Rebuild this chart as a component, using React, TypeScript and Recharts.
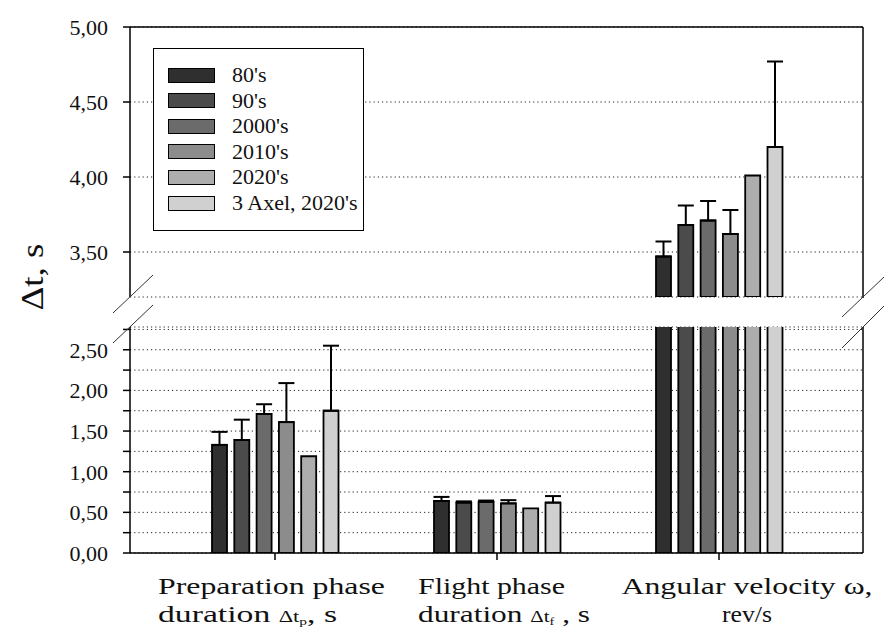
import React from 'react';
import { BarChart, Bar, XAxis, YAxis, CartesianGrid, ErrorBar } from 'recharts';

// jump parameters, three groups on the x axis
const categories = ['prep', 'flight', 'omega'];

// one series per era; means and (upper) standard deviations per group
const seriesNames = ["80's", "90's", "2000's", "2010's", "2020's", "3 Axel, 2020's"];
const seriesColors = ['#2f2f2f', '#4b4b4b', '#6b6b6b', '#8c8c8c', '#adadad', '#d0d0d0'];

const values80s = [1.33, 0.64, 3.47];
const values90s = [1.39, 0.62, 3.68];
const values2000s = [1.71, 0.63, 3.71];
const values2010s = [1.61, 0.61, 3.62];
const values2020s = [1.19, 0.55, 4.01];
const values3Axel = [1.75, 0.62, 4.2];

const sd80s = [0.16, 0.05, 0.1];
const sd90s = [0.25, 0.015, 0.13];
const sd2000s = [0.12, 0.015, 0.13];
const sd2010s = [0.48, 0.04, 0.16];
const sd3Axel = [0.8, 0.08, 0.57];

const lowerTicks = [0, 0.25, 0.5, 0.75, 1, 1.25, 1.5, 1.75, 2, 2.25, 2.5, 2.75];
const upperTicks = [3.5, 4, 4.5, 5];

const series = [
  { values: values80s, sd: sd80s },
  { values: values90s, sd: sd90s },
  { values: values2000s, sd: sd2000s },
  { values: values2010s, sd: sd2010s },
  { values: values2020s, sd: null },
  { values: values3Axel, sd: sd3Axel },
].map((s, k) => ({ ...s, name: seriesNames[k], color: seriesColors[k] }));

// broken value axis
const LOWER_MAX = 2.78;
const UPPER_MIN = 3.2;
const UPPER_MAX = 5;

// plot frame (px)
const W = 884;
const H = 632;
const LEFT = 130;
const RIGHT = 863;
const TOP = 27;
const UPPER_BOTTOM = 297;
const LOWER_TOP = 327;
const BOTTOM = 553;
const Y_AXIS_W = 60;

type Row = Record<string, string | number | number[] | null>;

function buildRows(showBar: (v: number) => boolean, showErr: (v: number, e: number) => boolean): Row[] {
  return categories.map((cat, i) => {
    const row: Row = { cat };
    series.forEach((s, k) => {
      const v = s.values[i];
      row[`v${k}`] = showBar(v) ? v : null;
      row[`e${k}`] = s.sd && showBar(v) && showErr(v, s.sd[i]) ? [0, s.sd[i]] : null;
    });
    return row;
  });
}

const lowerRows = buildRows(() => true, (v) => v <= LOWER_MAX);
const upperRows = buildRows((v) => v >= UPPER_MIN, () => true);

const FONT = '"Liberation Serif", "Times New Roman", serif';

const fmt = (v: number) => v.toFixed(2).replace('.', ',');

type Seg = { t: string; size?: number; dy?: number };
type XLabel = { anchor: 'start' | 'middle'; dx: number; lines: Seg[][]; widths: number[] };

const xLabels: Record<string, XLabel> = {
  prep: {
    anchor: 'start',
    dx: -117,
    lines: [
      [{ t: 'Preparation phase' }],
      [{ t: 'duration ' }, { t: '\u0394t', size: 16 }, { t: 'p', size: 11, dy: 3 }, { t: ', s', dy: -3 }],
    ],
    widths: [227, 179],
  },
  flight: {
    anchor: 'start',
    dx: -79,
    lines: [
      [{ t: 'Flight phase' }],
      [{ t: 'duration  ' }, { t: '\u0394t', size: 16 }, { t: 'f', size: 11, dy: 3 }, { t: ' , s', dy: -3 }],
    ],
    widths: [147, 172],
  },
  omega: {
    anchor: 'middle',
    dx: 28,
    lines: [[{ t: 'Angular velocity \u03c9,' }], [{ t: 'rev/s' }]],
    widths: [251, 50],
  },
};

function CategoryTick(props: any) {
  const { x, y, payload } = props;
  const lab = xLabels[payload.value];
  if (!lab) return null;
  return (
    <g>
      {lab.lines.map((segs, li) => (
        <text
          key={li}
          x={x + lab.dx}
          y={y + 32 + li * 28}
          textAnchor={lab.anchor}
          fontFamily={FONT}
          fontSize={24}
          fill="#111"
          textLength={lab.widths[li]}
          lengthAdjust="spacingAndGlyphs"
        >
          {segs.map((s, si) => (
            <tspan key={si} fontSize={s.size ?? 24} dy={s.dy ?? 0}>
              {s.t}
            </tspan>
          ))}
        </text>
      ))}
    </g>
  );
}

const yTickStyle = { fill: '#111', fontSize: 22, fontFamily: FONT };

function renderBars(withErrors: boolean) {
  return series.map((s, k) => (
    <Bar
      key={s.name}
      dataKey={`v${k}`}
      name={s.name}
      fill={s.color}
      stroke="#000"
      strokeWidth={1.8}
      isAnimationActive={false}
    >
      {withErrors && s.sd && (
        <ErrorBar dataKey={`e${k}`} width={8} stroke="#000" strokeWidth={2} direction="y" isAnimationActive={false} />
      )}
    </Bar>
  ));
}

const xPadding = { left: 34, right: 33 };
const barProps = { barSize: 15, barGap: 7.3 };

export default function App() {
  const abs: React.CSSProperties = { position: 'absolute', left: 0, top: 0 };
  return (
    <div style={{ position: 'absolute', left: 0, top: 0, width: W, height: H, background: '#fff' }}>
      {/* lower segment: 0 .. 2.78 */}
      <div style={abs}>
        <BarChart
          width={W}
          height={H}
          data={lowerRows}
          margin={{ top: LOWER_TOP, right: W - RIGHT, bottom: 0, left: LEFT - Y_AXIS_W }}
          {...barProps}
        >
          <CartesianGrid vertical={false} stroke="#222" strokeDasharray="1.2 3" />
          <XAxis
            dataKey="cat"
            height={H - BOTTOM}
            padding={xPadding}
            axisLine={{ stroke: '#000', strokeWidth: 1.5 }}
            tickLine={{ stroke: '#000', strokeWidth: 1.5 }}
            tickSize={7}
            tick={<CategoryTick />}
            interval={0}
          />
          <YAxis
            width={Y_AXIS_W}
            domain={[0, LOWER_MAX]}
            allowDataOverflow
            ticks={lowerTicks}
            interval={0}
            tickFormatter={(v: number) => (Math.abs((v * 2) % 1) < 1e-9 ? fmt(v) : '')}
            axisLine={{ stroke: '#000', strokeWidth: 1.5 }}
            tickLine={{ stroke: '#000', strokeWidth: 1.5 }}
            tickSize={7}
            tickMargin={15}
            tick={yTickStyle}
          />
          {renderBars(true)}
        </BarChart>
      </div>

      {/* upper segment: 3.2 .. 5.0 */}
      <div style={abs}>
        <BarChart
          width={W}
          height={H}
          data={upperRows}
          margin={{ top: TOP, right: W - RIGHT, bottom: H - UPPER_BOTTOM, left: LEFT - Y_AXIS_W }}
          {...barProps}
        >
          <CartesianGrid vertical={false} stroke="#222" strokeDasharray="1.2 3" />
          <XAxis dataKey="cat" hide padding={xPadding} />
          <YAxis
            width={Y_AXIS_W}
            domain={[UPPER_MIN, UPPER_MAX]}
            allowDataOverflow
            ticks={upperTicks}
            interval={0}
            tickFormatter={fmt}
            axisLine={{ stroke: '#000', strokeWidth: 1.5 }}
            tickLine={{ stroke: '#000', strokeWidth: 1.5 }}
            tickSize={7}
            tickMargin={15}
            tick={yTickStyle}
          />
          {renderBars(true)}
        </BarChart>
      </div>

      {/* frame, axis breaks and value-axis title */}
      <svg width={W} height={H} style={{ ...abs, pointerEvents: 'none' }}>
        <g stroke="#000" strokeWidth={1.5}>
          <line x1={LEFT} y1={TOP} x2={RIGHT} y2={TOP} />
          <line x1={RIGHT} y1={TOP} x2={RIGHT} y2={UPPER_BOTTOM + 1} />
          <line x1={RIGHT} y1={LOWER_TOP} x2={RIGHT} y2={BOTTOM} />
        </g>
        <g stroke="#333" strokeWidth={1}>
          <line x1={LEFT - 17} y1={UPPER_BOTTOM + 16} x2={LEFT + 23} y2={UPPER_BOTTOM - 22} />
          <line x1={LEFT - 17} y1={LOWER_TOP + 16} x2={LEFT + 23} y2={LOWER_TOP - 22} />
          <line x1={RIGHT - 21} y1={UPPER_BOTTOM + 20} x2={RIGHT + 21} y2={UPPER_BOTTOM - 20} />
          <line x1={RIGHT - 21} y1={LOWER_TOP + 21} x2={RIGHT + 21} y2={LOWER_TOP - 21} />
        </g>
        <text
          transform="translate(43,277) rotate(-90)"
          textAnchor="middle"
          fontFamily={FONT}
          fontSize={32}
          fill="#111"
          textLength={67}
          lengthAdjust="spacingAndGlyphs"
        >
          {'\u0394t, s'}
        </text>
      </svg>

      {/* legend */}
      <div
        style={{
          position: 'absolute',
          left: 153,
          top: 48,
          width: 211,
          height: 183,
          boxSizing: 'border-box',
          border: '1.5px solid #000',
          background: '#fff',
          fontFamily: FONT,
          fontSize: 22,
          color: '#111',
        }}
      >
        {series.map((s, k) => (
          <div
            key={s.name}
            style={{ position: 'absolute', left: 14, top: 13 + k * 25.6, height: 26, display: 'flex', alignItems: 'center' }}
          >
            <div
              style={{ width: 47, height: 15, boxSizing: 'border-box', background: s.color, border: '1.5px solid #000' }}
            />
            <span style={{ marginLeft: 17, whiteSpace: 'nowrap', lineHeight: '26px' }}>{s.name}</span>
          </div>
        ))}
      </div>
    </div>
  );
}
